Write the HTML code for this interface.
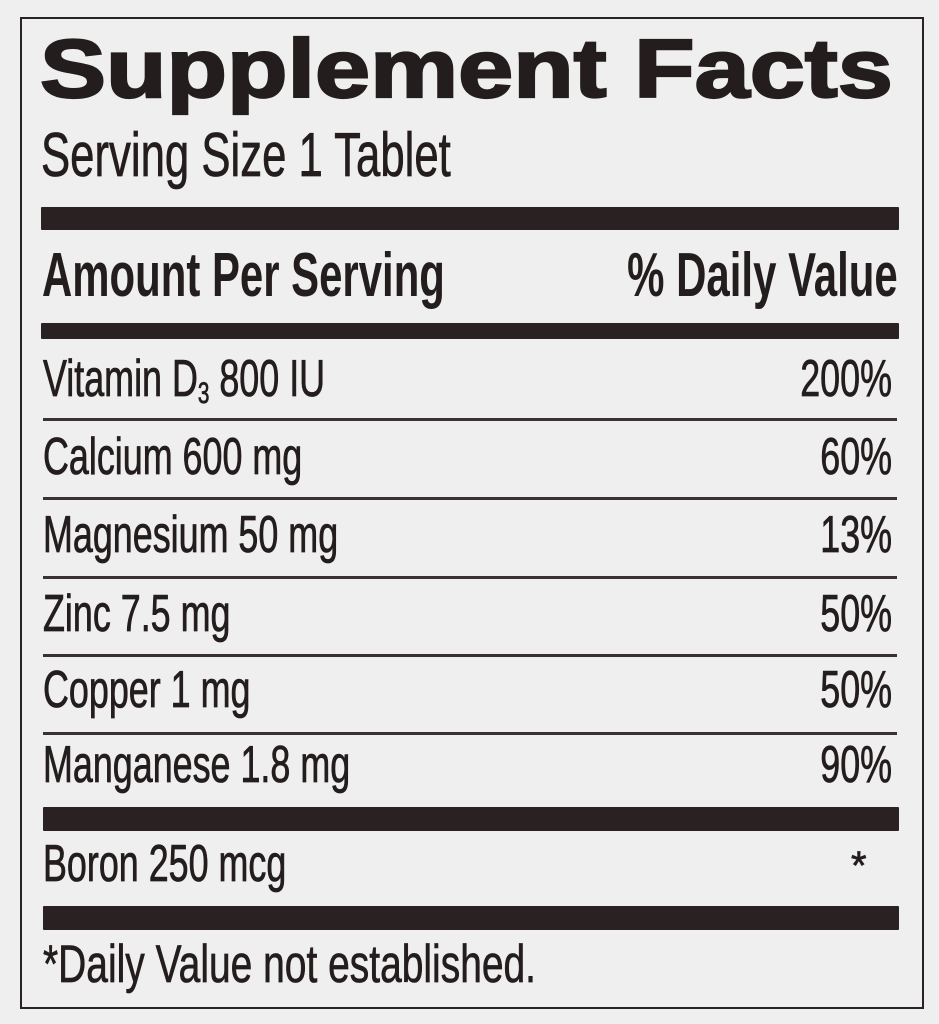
<!DOCTYPE html>
<html>
<head>
<meta charset="utf-8">
<style>
  html, body { margin:0; padding:0; }
  body { width:939px; height:1024px; background:#efefef; position:relative; overflow:hidden;
         font-family:"Liberation Sans", Arial, sans-serif; color:#241d1d; }
  .box { position:absolute; left:20px; top:17px; width:900px; height:988px; border:2px solid #2a2323; }
  .bar { position:absolute; background:#2a2222; border-radius:1px; }
  .ln { position:absolute; left:43px; width:854px; height:3px; background:#3a3232; }
  .t { position:absolute; white-space:nowrap; line-height:1; }
  .L { transform-origin:left top; }
  .R { transform-origin:right top; text-align:right; }
  .row { font-size:52px; transform:scaleX(0.69); -webkit-text-stroke:0.8px #241d1d; }
  .pct { font-size:52px; transform:scaleX(0.69); right:47px; -webkit-text-stroke:0.8px #241d1d; }
</style>
</head>
<body>
<div class="box"></div>

<div class="t L" style="left:40px; top:27px; font-size:83px; font-weight:bold; transform:scaleX(1.193); -webkit-text-stroke:2.2px #241d1d;">Supplement Facts</div>

<div class="t L" style="left:41px; top:125px; font-size:62px; transform:scaleX(0.705); -webkit-text-stroke:0.7px #241d1d;">Serving Size 1 Tablet</div>

<div class="bar" style="left:41px; top:207px; width:858px; height:23px;"></div>

<div class="t L" style="left:42px; top:245px; font-size:62px; font-weight:bold; transform:scaleX(0.676);">Amount Per Serving</div>
<div class="t R" style="right:41px; top:245px; font-size:62px; font-weight:bold; transform:scaleX(0.677);">% Daily Value</div>

<div class="bar" style="left:41px; top:323px; width:858px; height:16px;"></div>

<div class="t L row" style="left:43px; top:353px;">Vitamin D<span style="font-size:30px; vertical-align:-7px;">3</span> 800 IU</div>
<div class="t R pct" style="top:353px;">200%</div>
<div class="ln" style="top:418px;"></div>

<div class="t L row" style="left:43px; top:431px;">Calcium 600 mg</div>
<div class="t R pct" style="top:431px;">60%</div>
<div class="ln" style="top:497px;"></div>

<div class="t L row" style="left:43px; top:509px;">Magnesium 50 mg</div>
<div class="t R pct" style="top:509px;">13%</div>
<div class="ln" style="top:576px;"></div>

<div class="t L row" style="left:43px; top:588px;">Zinc 7.5 mg</div>
<div class="t R pct" style="top:588px;">50%</div>
<div class="ln" style="top:654px;"></div>

<div class="t L row" style="left:43px; top:664px;">Copper 1 mg</div>
<div class="t R pct" style="top:664px;">50%</div>
<div class="ln" style="top:732px;"></div>

<div class="t L row" style="left:43px; top:739px;">Manganese 1.8 mg</div>
<div class="t R pct" style="top:739px;">90%</div>

<div class="bar" style="left:43px; top:807px; width:856px; height:24px;"></div>

<div class="t L row" style="left:43px; top:838px;">Boron 250 mcg</div>
<div class="t L" style="left:851px; top:846px; font-size:40px; -webkit-text-stroke:0.7px #241d1d;">*</div>

<div class="bar" style="left:43px; top:906px; width:856px; height:24px;"></div>

<div class="t L" style="left:43px; top:938px; font-size:53px; transform:scaleX(0.735); -webkit-text-stroke:0.7px #241d1d;">*Daily Value not established.</div>
</body>
</html>
